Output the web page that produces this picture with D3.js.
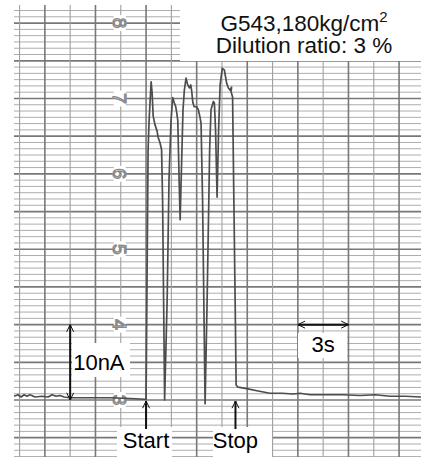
<!DOCTYPE html>
<html>
<head>
<meta charset="utf-8">
<script src="https://cdn.jsdelivr.net/npm/d3@7"></script>
<style>
  body { margin: 0; background: #fff; }
  svg { display: block; }
  text { font-family: "Liberation Sans", Arial, sans-serif; }
</style>
</head>
<body>
<div id="chart"></div>
<script>
// recorder trace: time in s (0 = Start) and chart reading (10 nA per unit)
var timeS = [-7.83, -7.59, -7.41, -7.23, -7.06, -6.88, -6.58, -6.17, -5.81, -5.57, -5.34, -5.10, -4.86, -4.51, -3.32, -2.13, -0.95, -0.06,
  0.00, 0.12, 0.18, 0.30, 0.36, 0.42, 0.53, 0.65, 0.71, 0.83, 0.92, 0.98, 1.10,
  1.25, 1.36, 1.48, 1.58, 1.68, 1.76, 1.82, 1.88, 1.96, 2.02,
  2.08, 2.19, 2.27, 2.37, 2.47, 2.57, 2.65, 2.71, 2.77, 2.85, 3.01, 3.10, 3.20, 3.26, 3.35, 3.50,
  3.62, 3.77, 3.85, 3.99, 4.05, 4.12, 4.21,
  4.30, 4.39, 4.52, 4.64, 4.78, 4.88, 4.98, 5.07, 5.04, 5.13, 5.16, 5.28, 5.34,
  5.45, 5.97, 6.64, 7.35, 8.06, 8.72, 9.13, 9.72, 10.32, 11.68, 12.69, 13.58, 14.47, 15.36, 16.30];
var reading = [3.05, 3.07, 3.04, 3.07, 3.05, 3.07, 3.04, 3.05, 3.04, 3.07, 3.05, 3.06, 3.04, 3.03, 3.03, 3.03, 3.02, 3.01,
  3.01, 6.32, 6.71, 7.22, 7.07, 6.77, 6.65, 6.57, 6.49, 6.41, 6.32, 5.65, 3.00,
  4.33, 5.92, 6.71, 7.01, 6.94, 6.89, 6.81, 6.71, 5.92, 5.39,
  5.92, 6.85, 7.11, 7.27, 7.18, 7.14, 7.18, 7.09, 6.95, 6.89, 6.89, 6.85, 6.75, 6.67, 5.65, 2.95,
  4.33, 6.32, 6.85, 6.96, 6.94, 6.58, 5.69,
  6.58, 7.18, 7.40, 7.38, 7.20, 7.14, 7.11, 7.15, 7.09, 7.02, 6.45, 4.33, 3.20,
  3.17, 3.15, 3.12, 3.09, 3.09, 3.08, 3.09, 3.07, 3.07, 3.07, 3.06, 3.07, 3.05, 3.05, 3.04];

var readingTicks = [3, 4, 5, 6, 7, 8];
var readingLabels = ["3", "4", "5", "6", "7", "8"];
var titleLines = ["G543,180kg/cm", "Dilution ratio: 3 %"];
var startTime = 0, stopTime = 5.3;
var currentBar = { time: -4.5, from: 3, to: 4, label: "10nA" };
var timeBar = { from: 9, to: 12, at: 4, label: "3s" };

var width = 421, height = 457;
var x = d3.scaleLinear().domain([-7.83, 16.30]).range([14, 421]);
var y = d3.scaleLinear().domain([2.244, 8.24]).range([457, 5]);

var svg = d3.select("#chart").append("svg")
    .attr("width", width).attr("height", height);

function isHalf(d) { return Math.abs(d * 2 - Math.round(d * 2)) < 1e-6; }

// paper grid
var grid = svg.append("g");
var minorY = d3.range(Math.ceil(2.25 * 12), Math.floor(8.24 * 12) + 1).map(function(k) { return k / 12; });
grid.selectAll("line.hmin").data(minorY).enter().append("line")
    .attr("x1", x.range()[0]).attr("x2", x.range()[1])
    .attr("y1", function(d) { return y(d); }).attr("y2", function(d) { return y(d); })
    .attr("stroke", function(d) { return isHalf(d) ? "#787878" : "#adadad"; })
    .attr("stroke-width", function(d) { return isHalf(d) ? 1.7 : 1; });

var vLines = d3.range(-7.5, 16.4, 1.5);
grid.selectAll("line.v").data(vLines).enter().append("line")
    .attr("x1", function(d) { return x(d); }).attr("x2", function(d) { return x(d); })
    .attr("y1", y.range()[1]).attr("y2", y.range()[0])
    .attr("stroke", function(d) { return d % 3 === 0 ? "#787878" : "#a0a0a0"; })
    .attr("stroke-width", function(d) { return d % 3 === 0 ? 1.6 : 1.1; });

// printed scale digits on the paper
var lab = svg.append("g").selectAll("g").data(readingTicks).enter().append("g")
    .attr("transform", function(d) { return "translate(" + (x(-1.5) - 1) + "," + y(d) + ") rotate(90)"; });
lab.append("rect").attr("x", -8).attr("y", -6).attr("width", 16).attr("height", 12).attr("fill", "#fff");
lab.append("text")
    .attr("text-anchor", "middle").attr("dy", "0.36em")
    .attr("fill", "#fff").attr("stroke", "#8a8a8a").attr("stroke-width", 1.3)
    .style("font-size", "19px")
    .text(function(d, i) { return readingLabels[i]; });

// trace
var pts = timeS.map(function(t, i) { return [t, reading[i]]; });
svg.append("path")
    .datum(pts)
    .attr("d", d3.line().x(function(d) { return x(d[0]); }).y(function(d) { return y(d[1]); }))
    .attr("fill", "none")
    .attr("stroke", "#4d4d4d")
    .attr("stroke-width", 1.7)
    .attr("stroke-linejoin", "round");

// white label boxes
var boxes = [[180, 0, 241, 61], [72, 343, 58, 34], [117, 427, 55, 30], [213, 427, 59, 30], [298, 333, 49, 25]];
svg.append("g").selectAll("rect").data(boxes).enter().append("rect")
    .attr("x", function(d) { return d[0]; }).attr("y", function(d) { return d[1]; })
    .attr("width", function(d) { return d[2]; }).attr("height", function(d) { return d[3]; })
    .attr("fill", "#fff");

function head(g, px, py, dir) {
  // open arrow head, dir = angle in radians the arrow points to
  var l = 8, a = 0.45;
  var p1 = [px - l * Math.cos(dir - a), py - l * Math.sin(dir - a)];
  var p2 = [px - l * Math.cos(dir + a), py - l * Math.sin(dir + a)];
  g.append("path").attr("d", "M" + p1 + "L" + px + "," + py + "L" + p2)
      .attr("fill", "none").attr("stroke", "#111").attr("stroke-width", 1);
}

var ann = svg.append("g");
// 10nA bar
var cx = x(currentBar.time);
ann.append("line").attr("x1", cx).attr("x2", cx)
    .attr("y1", y(currentBar.to)).attr("y2", y(currentBar.from))
    .attr("stroke", "#111").attr("stroke-width", 2);
head(ann, cx, y(currentBar.to), -Math.PI / 2);
head(ann, cx, y(currentBar.from), Math.PI / 2);
ann.append("text").attr("x", cx + 3).attr("y", 370).style("font-size", "22px").text(currentBar.label);

// 3s bar
ann.append("line").attr("x1", x(timeBar.from)).attr("x2", x(timeBar.to))
    .attr("y1", y(timeBar.at)).attr("y2", y(timeBar.at))
    .attr("stroke", "#111").attr("stroke-width", 2);
head(ann, x(timeBar.from), y(timeBar.at), Math.PI);
head(ann, x(timeBar.to), y(timeBar.at), 0);
ann.append("text").attr("x", (x(timeBar.from) + x(timeBar.to)) / 2).attr("y", 352)
    .attr("text-anchor", "middle").style("font-size", "22px").text(timeBar.label);

// Start / Stop markers
[[startTime, "Start"], [stopTime, "Stop"]].forEach(function(m) {
  var mx = x(m[0]);
  ann.append("line").attr("x1", mx).attr("x2", mx).attr("y1", 401).attr("y2", 429)
      .attr("stroke", "#111").attr("stroke-width", 2);
  head(ann, mx, 401, -Math.PI / 2);
  ann.append("text").attr("x", mx).attr("y", 448).attr("text-anchor", "middle")
      .style("font-size", "22px").text(m[1]);
});

// title
var title = svg.append("text").attr("text-anchor", "middle").style("font-size", "22.5px").attr("fill", "#111");
title.append("tspan").attr("x", 304).attr("y", 31).text(titleLines[0])
  .append("tspan").attr("dy", -9).style("font-size", "15px").text("2");
svg.append("text").attr("text-anchor", "middle").style("font-size", "22.5px").attr("fill", "#111")
    .attr("x", 304).attr("y", 53).text(titleLines[1]);
</script>
</body>
</html>
